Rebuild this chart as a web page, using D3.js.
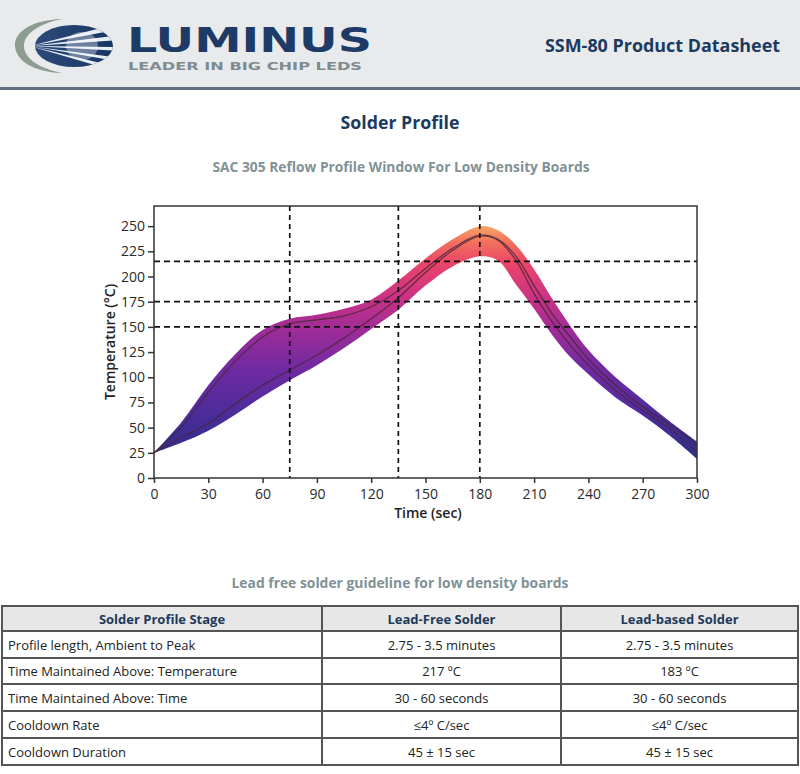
<!DOCTYPE html>
<html><head><meta charset="utf-8">
<script src="https://cdn.jsdelivr.net/npm/d3@7"></script>
<style>body{margin:0;background:#fff}svg{display:block}</style>
</head><body>
<svg id="c" width="800" height="774"></svg>
<script>
// ---------- data ----------
const times      = [0,15,30,45,60,75,90,105,120,135,150,165,180,190,200,210,220,230,240,255,270,285,300];
const upperLimit = [25,55,92,123,147,158,162,168,177,196,218,237,250,246,231,207,178,151,127,100,78,56,36];
const lowerLimit = [25,35,47,63,81,97,112,129,148,167,191,210,220,216,192,168,142,120,103,80,62,42,19];
const profileA   = [25,50,85,116,140,153,157,161,170,186,208,228,241,237,220,191,163,140,118,92,71,53,33];
const profileB   = [25,40,54,74,92,107,122,139,158,179,204,226,240,236,216,183,155,132,112,87,67,49,26];
const xTicks = [0,30,60,90,120,150,180,210,240,270,300];
const yTicks = [0,25,50,75,100,125,150,175,200,225,250];
const guideTimes = [75,135,180];
const guideTemps = [150,175,215];

const tableHeaders = ["Solder Profile Stage","Lead-Free Solder","Lead-based Solder"];
const stages    = ["Profile length, Ambient to Peak","Time Maintained Above: Temperature","Time Maintained Above: Time","Cooldown Rate","Cooldown Duration"];
const leadFree  = ["2.75 - 3.5 minutes","217 ºC","30 - 60 seconds","≤4º C/sec","45 ± 15 sec"];
const leadBased = ["2.75 - 3.5 minutes","183 ºC","30 - 60 seconds","≤4º C/sec","45 ± 15 sec"];

// ---------- setup ----------
const svg = d3.select("#c");
const NAVY = "#1b3a60";
const SUB = "#7f9296";
const FONT = "'Open Sans', 'Noto Sans', sans-serif";

// header
svg.append("rect").attr("x",0).attr("y",0).attr("width",800).attr("height",88).attr("fill","#e9eaeb");
svg.append("rect").attr("x",0).attr("y",87).attr("width",800).attr("height",3).attr("fill","#607080");

// logo
const defs = svg.append("defs");
const lg = defs.append("linearGradient").attr("id","logoG").attr("x1",0).attr("x2",1).attr("y1",0).attr("y2",0);
lg.append("stop").attr("offset",0).attr("stop-color","#2d4c7c");
lg.append("stop").attr("offset",1).attr("stop-color","#163460");
defs.append("clipPath").attr("id","logoClip").append("ellipse").attr("cx",74).attr("cy",46).attr("rx",39).attr("ry",21);
svg.append("path").attr("d","M62,19 C30,20 14,33 15,46 C16,60 32,72 62,73 C38,68 24,58 24,46 C24,34 38,24 62,19 Z").attr("fill","#8c9c90");
const lgrp = svg.append("g").attr("clip-path","url(#logoClip)");
lgrp.append("rect").attr("x",30).attr("y",20).attr("width",90).attr("height",55).attr("fill","url(#logoG)");
const stripes = [[-19,-14],[-9,-5],[1,4],[10,13],[18,22]];
stripes.forEach(s=>{
  lgrp.append("path").attr("d",`M30,46 L120,${46+s[0]*1.2} L120,${46+s[1]*1.2} Z`).attr("fill","#e8eef6");
});
lgrp.append("ellipse").attr("cx",82).attr("cy",46).attr("rx",16).attr("ry",14).attr("fill","#ffffff").attr("opacity",0.35);

svg.append("text").attr("x",127).attr("y",52).attr("font-family","'DejaVu Sans', sans-serif").attr("font-weight","bold")
  .attr("font-size",33).attr("fill","#1d3b66").attr("textLength",245).attr("lengthAdjust","spacingAndGlyphs").text("LUMINUS");
svg.append("text").attr("x",128).attr("y",70).attr("font-family","'DejaVu Sans', sans-serif").attr("font-weight","bold")
  .attr("font-size",11).attr("fill","#7e8b90").attr("textLength",234).attr("lengthAdjust","spacingAndGlyphs").text("LEADER IN BIG CHIP LEDS");
svg.append("text").attr("x",780).attr("y",52).attr("text-anchor","end").attr("font-family",FONT).attr("font-weight","bold")
  .attr("font-size",17.5).attr("fill",NAVY).attr("textLength",235).attr("lengthAdjust","spacingAndGlyphs").text("SSM-80 Product Datasheet");

// titles
svg.append("text").attr("x",400).attr("y",129).attr("text-anchor","middle").attr("font-family",FONT).attr("font-weight","bold")
  .attr("font-size",18).attr("fill",NAVY).attr("textLength",119).attr("lengthAdjust","spacingAndGlyphs").text("Solder Profile");
svg.append("text").attr("x",401).attr("y",172).attr("text-anchor","middle").attr("font-family",FONT).attr("font-weight","bold")
  .attr("font-size",14).attr("fill",SUB).attr("textLength",377).attr("lengthAdjust","spacingAndGlyphs").text("SAC 305 Reflow Profile Window For Low Density Boards");

// ---------- chart ----------
const x = d3.scaleLinear().domain([0,300]).range([154,697]);
const y = d3.scaleLinear().domain([0,270]).range([478,206]);

const grad = defs.append("linearGradient").attr("id","bandG").attr("gradientUnits","userSpaceOnUse")
  .attr("x1",0).attr("x2",0).attr("y1",y(20)).attr("y2",y(250));
[[0,"#2b2e8a"],[0.18,"#4a2c9a"],[0.38,"#6f2aa2"],[0.55,"#9e2c98"],[0.7,"#cc3383"],[0.84,"#ea4568"],[0.93,"#f2705e"],[1,"#f7a664"]]
  .forEach(s=>grad.append("stop").attr("offset",s[0]).attr("stop-color",s[1]));

const idx = d3.range(times.length);
const band = d3.area().x(i=>x(times[i])).y0(i=>y(lowerLimit[i])).y1(i=>y(upperLimit[i])).curve(d3.curveCatmullRom.alpha(0.5));
svg.append("path").attr("d",band(idx)).attr("fill","url(#bandG)");

const line = arr => d3.line().x(i=>x(times[i])).y(i=>y(arr[i])).curve(d3.curveCatmullRom.alpha(0.5))(idx);
[profileA,profileB].forEach(a=>{
  svg.append("path").attr("d",line(a)).attr("fill","none").attr("stroke","#4b2638").attr("stroke-width",1.2).attr("stroke-opacity",0.85);
});

// guides
guideTimes.forEach(t=>{
  svg.append("line").attr("x1",x(t)).attr("x2",x(t)).attr("y1",y(270)).attr("y2",y(0))
    .attr("stroke","#111").attr("stroke-width",1.7).attr("stroke-dasharray","5,4");
});
guideTemps.forEach(v=>{
  svg.append("line").attr("x1",x(0)).attr("x2",x(300)).attr("y1",y(v)).attr("y2",y(v))
    .attr("stroke","#111").attr("stroke-width",1.7).attr("stroke-dasharray","6,4");
});

// frame
svg.append("rect").attr("x",x(0)).attr("y",y(270)).attr("width",x(300)-x(0)).attr("height",y(0)-y(270))
  .attr("fill","none").attr("stroke","#333").attr("stroke-width",1.5);

// axes
const ax = svg.append("g").attr("transform",`translate(0,${y(0)})`)
  .call(d3.axisBottom(x).tickValues(xTicks).tickSize(5).tickPadding(6));
const ay = svg.append("g").attr("transform",`translate(${x(0)},0)`)
  .call(d3.axisLeft(y).tickValues(yTicks).tickSize(6).tickPadding(3));
[ax,ay].forEach(g=>{
  g.select(".domain").remove();
  g.selectAll(".tick line").attr("stroke","#333").attr("stroke-width",1.5);
  g.selectAll(".tick text").attr("font-family",FONT).attr("font-size",14).attr("fill","#2a2a2a");
});

svg.append("text").attr("x",428).attr("y",518).attr("text-anchor","middle").attr("font-family",FONT).attr("font-weight",600)
  .attr("font-size",14).attr("fill","#222").text("Time (sec)");
svg.append("text").attr("transform",`translate(115,342) rotate(-90)`).attr("text-anchor","middle").attr("font-family",FONT).attr("font-weight",600)
  .attr("font-size",14).attr("fill","#222").text("Temperature (°C)");

// ---------- table ----------
svg.append("text").attr("x",400).attr("y",588).attr("text-anchor","middle").attr("font-family",FONT).attr("font-weight","bold")
  .attr("font-size",14).attr("fill",SUB).attr("textLength",337).attr("lengthAdjust","spacingAndGlyphs").text("Lead free solder guideline for low density boards");

const colX = [2,322,561,798];
const rowY = [606,631,658,684,711,738,765];
svg.append("rect").attr("x",colX[0]).attr("y",rowY[0]).attr("width",colX[3]-colX[0]).attr("height",rowY[1]-rowY[0]).attr("fill","#e7e7e7");

tableHeaders.forEach((h,j)=>{
  svg.append("text").attr("x",(colX[j]+colX[j+1])/2).attr("y",(rowY[0]+rowY[1])/2+5).attr("text-anchor","middle")
    .attr("font-family",FONT).attr("font-weight","bold").attr("font-size",13).attr("fill","#1e3a5c").text(h);
});
stages.forEach((s,i)=>{
  const cy = (rowY[i+1]+rowY[i+2])/2+5;
  svg.append("text").attr("x",8).attr("y",cy).attr("font-family",FONT).attr("font-size",13).attr("fill","#222").text(s);
  svg.append("text").attr("x",(colX[1]+colX[2])/2).attr("y",cy).attr("text-anchor","middle").attr("font-family",FONT).attr("font-size",13).attr("fill","#222").text(leadFree[i]);
  svg.append("text").attr("x",(colX[2]+colX[3])/2).attr("y",cy).attr("text-anchor","middle").attr("font-family",FONT).attr("font-size",13).attr("fill","#222").text(leadBased[i]);
});
rowY.forEach(r=>svg.append("line").attr("x1",colX[0]-1).attr("x2",colX[3]+1).attr("y1",r).attr("y2",r).attr("stroke","#555").attr("stroke-width",2));
colX.forEach(c=>svg.append("line").attr("x1",c).attr("x2",c).attr("y1",rowY[0]).attr("y2",rowY[rowY.length-1]).attr("stroke","#555").attr("stroke-width",2));
</script>
</body></html>
